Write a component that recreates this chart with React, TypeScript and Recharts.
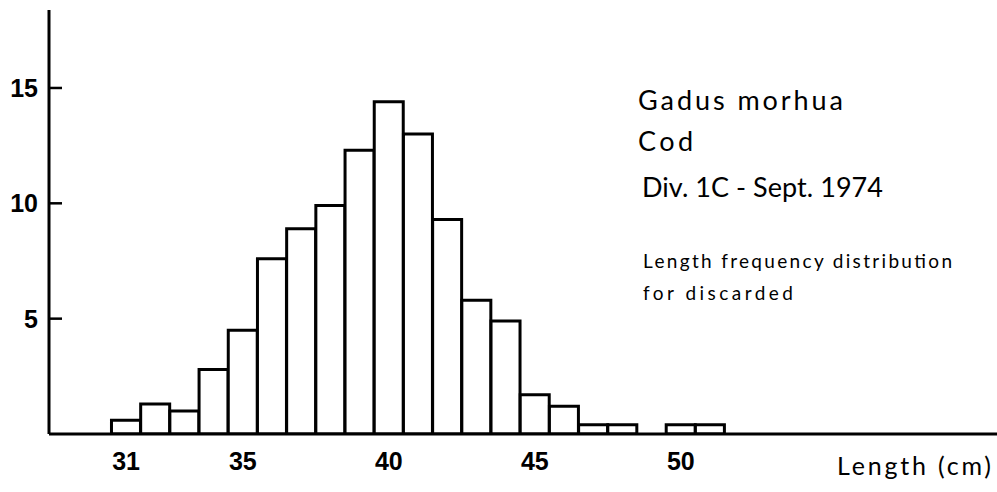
import { BarChart, Bar, XAxis, YAxis, Customized } from 'recharts'

// length classes (cm) and frequency of discarded cod
const lengths = [31, 32, 33, 34, 35, 36, 37, 38, 39, 40, 41, 42, 43, 44, 45, 46, 47, 48, 49, 50, 51]
const freq = [0.6, 1.3, 1.0, 2.8, 4.5, 7.6, 8.9, 9.9, 12.3, 14.4, 13.0, 9.3, 5.8, 4.9, 1.7, 1.2, 0.4, 0.4, 0, 0.4, 0.4]
const xTicks = [31, 35, 40, 45, 50]
const yTicks = [5, 10, 15]

const data = lengths.map((len, i) => ({ len, n: freq[i] }))

const tickFont = "'Liberation Sans', Arial, sans-serif"
const textFont = "Lato, 'Noto Sans', sans-serif"

const YTick = ({ x, y, payload }: any) => (
  <g>
    <line x1={x} x2={x + 13} y1={y} y2={y} stroke="#000" strokeWidth={2.5} />
    <text x={x - 11} y={y} dy={9} textAnchor="end" fontFamily={tickFont} fontWeight={700} fontSize={25} fill="#000">
      {payload.value}
    </text>
  </g>
)

const XTick = ({ x, y, payload }: any) => (
  <text x={x} y={y + 36} textAnchor="middle" fontFamily={tickFont} fontWeight={700} fontSize={25} fill="#000">
    {payload.value}
  </text>
)

// the original lettering is a wide geometric face, so stretch a little to its widths
const Notes = () => (
  <g fontFamily={textFont} fill="#000">
    <text x={638} y={110} fontSize={27} textLength={205} lengthAdjust="spacing">Gadus morhua</text>
    <text x={638} y={151} fontSize={27} textLength={55} lengthAdjust="spacing">Cod</text>
    <text x={642} y={197} fontSize={27} textLength={241} lengthAdjust="spacing">Div. 1C - Sept. 1974</text>
    <text x={643} y={268} fontSize={19} textLength={309} lengthAdjust="spacing">Length frequency distribution</text>
    <text x={643} y={300} fontSize={19} textLength={150} lengthAdjust="spacing">for discarded</text>
    <text x={837} y={475} fontSize={25} textLength={154} lengthAdjust="spacing">Length (cm)</text>
  </g>
)

export default function App() {
  return (
    <div style={{ position: 'absolute', left: 0, top: 0, width: 997, height: 492, background: '#fff' }}>
      <BarChart width={997} height={492} data={data} margin={{ top: 10, right: 0, left: 0, bottom: 0 }} barCategoryGap={0} barGap={0}>
        <XAxis
          dataKey="len"
          type="number"
          domain={[28.36, 60.83]}
          ticks={xTicks}
          interval={0}
          height={58}
          tickSize={0}
          tickMargin={0}
          tickLine={false}
          axisLine={{ stroke: '#000', strokeWidth: 3 }}
          tick={<XTick />}
          allowDataOverflow
        />
        <YAxis
          type="number"
          domain={[0, 18.38]}
          ticks={yTicks}
          interval={0}
          width={49}
          tickSize={0}
          tickMargin={0}
          tickLine={false}
          axisLine={{ stroke: '#000', strokeWidth: 3 }}
          tick={<YTick />}
          allowDataOverflow
        />
        <Bar dataKey="n" barSize={29} fill="#fff" stroke="#000" strokeWidth={3} isAnimationActive={false} />
        <Customized component={<Notes />} />
      </BarChart>
    </div>
  )
}
